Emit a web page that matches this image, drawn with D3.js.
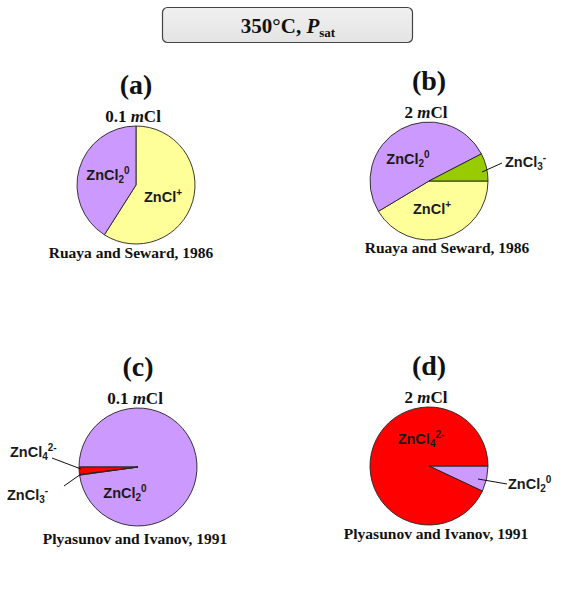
<!DOCTYPE html>
<html>
<head>
<meta charset="utf-8">
<script src="https://cdn.jsdelivr.net/npm/d3@7"></script>
<style>
  body { margin: 0; background: #fff; }
  svg { display: block; }
</style>
</head>
<body>
<svg id="chart" width="567" height="595"></svg>
<script>
// species shares (percent)
var speciesA = ['ZnCl+', 'ZnCl2'];
var valuesA = [59, 41];
var speciesB = ['ZnCl+', 'ZnCl2', 'ZnCl3'];
var valuesB = [41.4, 51, 7.6];
var speciesC = ['ZnCl2', 'ZnCl3', 'ZnCl4'];
var valuesC = [97.8, 0.2, 2.0];
var speciesD = ['ZnCl2', 'ZnCl4'];
var valuesD = [7, 93];

var panelTags = ['(a)', '(b)', '(c)', '(d)'];
var chlorides = ['0.1', '2', '0.1', '2'];
var sources = ['Ruaya and Seward, 1986', 'Ruaya and Seward, 1986',
               'Plyasunov and Ivanov, 1991', 'Plyasunov and Ivanov, 1991'];

var colors = {
    'ZnCl+': '#ffff99',
    'ZnCl2': '#cc99ff',
    'ZnCl3': '#99cc00',
    'ZnCl4': '#ff0000'
};
// sub / superscript pieces of each label
var formula = {
    'ZnCl+': ['', '+'],
    'ZnCl2': ['2', '0'],
    'ZnCl3': ['3', '-'],
    'ZnCl4': ['4', '2-']
};

var svg = d3.select('#chart');
var R = 59;
var serif = '"Liberation Serif", "Times New Roman", serif';
var sans = '"Liberation Sans", Arial, sans-serif';

// header box
var grad = svg.append('defs').append('linearGradient')
    .attr('id', 'hdr').attr('x1', 0).attr('y1', 0).attr('x2', 0).attr('y2', 1);
grad.append('stop').attr('offset', '0%').attr('stop-color', '#f0f0f0');
grad.append('stop').attr('offset', '100%').attr('stop-color', '#e4e4e4');

svg.append('rect')
    .attr('x', 162.5).attr('y', 7.5).attr('width', 250).attr('height', 35)
    .attr('rx', 5).attr('ry', 5)
    .attr('fill', 'url(#hdr)')
    .attr('stroke', '#444').attr('stroke-width', 1.2);

var hdr = svg.append('text')
    .attr('x', 288).attr('y', 33)
    .attr('text-anchor', 'middle')
    .attr('font-family', serif).attr('font-weight', 'bold')
    .attr('font-size', 21).attr('fill', '#111');
hdr.append('tspan').text('350\u00b0C, ');
hdr.append('tspan').attr('font-style', 'italic').text('P');
hdr.append('tspan').attr('font-size', 13).attr('dy', 4).text('sat');

var panels = [
    {cx: 136, cy: 185, names: speciesA, vals: valuesA, start: 0, src: [-5, 73],
     labels: [
        {sp: 'ZnCl2', dx: -28, dy: -5, anchor: 'middle'},
        {sp: 'ZnCl+', dx: 27, dy: 17, anchor: 'middle'}
     ]},
    {cx: 429, cy: 181, names: speciesB, vals: valuesB, start: 90, src: [18, 72],
     labels: [
        {sp: 'ZnCl2', dx: -21, dy: -17, anchor: 'middle'},
        {sp: 'ZnCl+', dx: 3, dy: 33, anchor: 'middle'},
        {sp: 'ZnCl3', dx: 76, dy: -14, anchor: 'start', line: [[53, -9], [73, -18]]}
     ]},
    {cx: 138, cy: 467, names: speciesC, vals: valuesC, start: 270, src: [-3, 77],
     labels: [
        {sp: 'ZnCl4', dx: -128, dy: -10, anchor: 'start', line: [[-57, 2], [-86, -9]]},
        {sp: 'ZnCl3', dx: -131, dy: 33, anchor: 'start', line: [[-57, 7], [-74, 19]]},
        {sp: 'ZnCl2', dx: -13, dy: 31, anchor: 'middle'}
     ]},
    {cx: 429, cy: 466, names: speciesD, vals: valuesD, start: 90, src: [7, 73],
     labels: [
        {sp: 'ZnCl4', dx: -8, dy: -22, anchor: 'middle'},
        {sp: 'ZnCl2', dx: 79, dy: 23, anchor: 'start', line: [[49, 13], [78, 18]]}
     ]}
];

var arc = d3.arc().innerRadius(0).outerRadius(R);

panels.forEach(function (p, i) {
    var g = svg.append('g').attr('transform', 'translate(' + p.cx + ',' + p.cy + ')');
    var s = p.start * Math.PI / 180;
    var pie = d3.pie().sort(null).startAngle(s).endAngle(s + 2 * Math.PI);
    var rows = p.names.map(function (n, k) { return {name: n, v: p.vals[k]}; });

    g.selectAll('path.slice')
        .data(pie.value(function (d) { return d.v; })(rows))
        .enter().append('path')
        .attr('class', 'slice')
        .attr('d', arc)
        .attr('fill', function (d) { return colors[d.data.name]; })
        .attr('stroke', '#222')
        .attr('stroke-width', 0.9)
        .attr('stroke-linejoin', 'round');

    // panel tag, chloride molality, source
    g.append('text')
        .attr('x', 0).attr('y', -91)
        .attr('text-anchor', 'middle')
        .attr('font-family', serif).attr('font-weight', 'bold')
        .attr('font-size', 28).attr('fill', '#111')
        .text(panelTags[i]);

    var m = g.append('text')
        .attr('x', -3).attr('y', -63)
        .attr('text-anchor', 'middle')
        .attr('font-family', serif).attr('font-weight', 'bold')
        .attr('font-size', 17).attr('fill', '#111');
    m.append('tspan').text(chlorides[i] + ' ');
    m.append('tspan').attr('font-style', 'italic').text('m');
    m.append('tspan').text('Cl');

    g.append('text')
        .attr('x', p.src[0]).attr('y', p.src[1])
        .attr('text-anchor', 'middle')
        .attr('font-family', serif).attr('font-weight', 'bold')
        .attr('font-size', 15.5).attr('fill', '#111')
        .text(sources[i]);

    p.labels.forEach(function (l) {
        if (l.line) {
            g.append('line')
                .attr('x1', l.line[0][0]).attr('y1', l.line[0][1])
                .attr('x2', l.line[1][0]).attr('y2', l.line[1][1])
                .attr('stroke', '#111').attr('stroke-width', 1);
        }
        var f = formula[l.sp];
        var t = g.append('text')
            .attr('x', l.dx).attr('y', l.dy)
            .attr('text-anchor', l.anchor)
            .attr('font-family', sans).attr('font-weight', 'bold')
            .attr('font-size', 14.5).attr('fill', '#1a1a1a');
        t.append('tspan').text('ZnCl');
        var up = -6;
        if (f[0]) {
            t.append('tspan').attr('font-size', 10).attr('dy', 3).text(f[0]);
            up = -9;
        }
        t.append('tspan').attr('font-size', 10).attr('dy', up).text(f[1]);
    });
});
</script>
</body>
</html>
